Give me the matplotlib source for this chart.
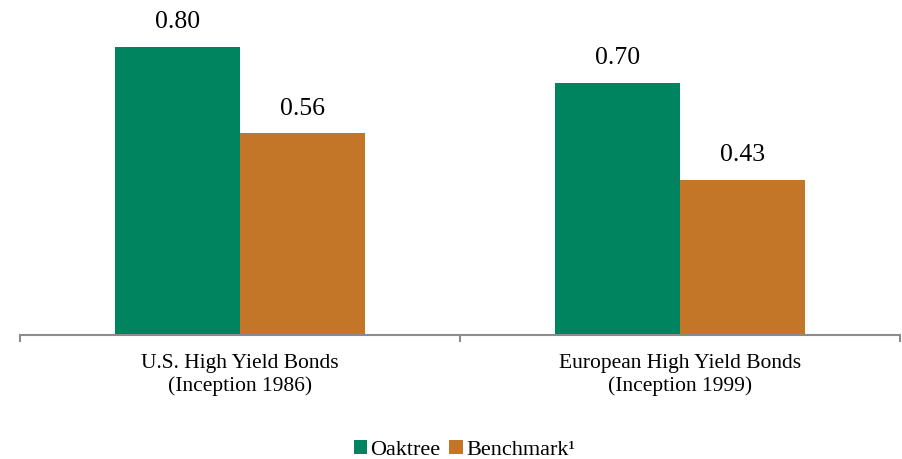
import matplotlib.pyplot as plt
import numpy as np

plt.rcParams['font.family'] = ['Liberation Serif', 'DejaVu Serif']

categories = ['U.S. High Yield Bonds\n(Inception 1986)', 'European High Yield Bonds\n(Inception 1999)']
oaktree = [0.80, 0.70]
benchmark = [0.56, 0.43]
series_names = ['Oaktree', 'Benchmark¹']

green = '#00845F'
orange = '#C47628'

fig = plt.figure(figsize=(9.02, 4.59), dpi=100)
ax = fig.add_axes([20/902, 124/459, 880/902, 324/459])

x = np.arange(len(categories))
w = 0.284
b1 = ax.bar(x - w/2, oaktree, w, color=green, label=series_names[0])
b2 = ax.bar(x + w/2, benchmark, w, color=orange, label=series_names[1])

for bars, vals in ((b1, oaktree), (b2, benchmark)):
    for r, v in zip(bars, vals):
        ax.annotate(f'{v:.2f}', (r.get_x() + r.get_width()/2, v), xytext=(0, 10),
                    textcoords='offset points', ha='center', va='bottom', fontsize=18.5)

ax.set_xlim(-0.5, len(categories) - 0.5)
ax.set_ylim(0, 0.9)
ax.set_yticks([])
for s in ['top', 'right', 'left']:
    ax.spines[s].set_visible(False)
ax.spines['bottom'].set_color('#8c8c8c')
ax.spines['bottom'].set_linewidth(1.5)

ax.set_xticks(x)
ax.set_xticklabels(categories, fontsize=15.5, linespacing=1.2)
ax.tick_params(axis='x', which='major', length=0, pad=14)
ax.set_xticks(np.arange(-0.5, len(categories)), minor=True)
ax.tick_params(axis='x', which='minor', length=5, width=1.5, color='#8c8c8c', direction='out')

fig.legend(handles=[b1, b2], loc='lower center', bbox_to_anchor=(0.515, -0.045), ncol=2,
           frameon=False, fontsize=16, handlelength=0.6, handleheight=0.6,
           handletextpad=0.15, columnspacing=0.4)

fig.savefig('out.png', dpi=100)
